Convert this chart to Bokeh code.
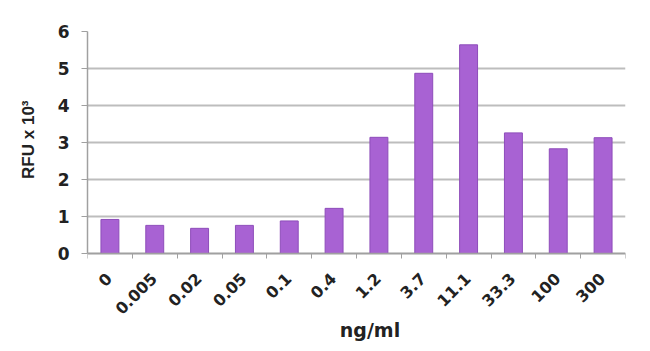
import math
from bokeh.plotting import figure
from bokeh.models import Range1d, FixedTicker, ColumnDataSource, Title
from bokeh.core.properties import value
from bokeh.embed import file_html
from bokeh.resources import INLINE

categories = ["0", "0.005", "0.02", "0.05", "0.1", "0.4", "1.2", "3.7", "11.1", "33.3", "100", "300"]
values = [0.92, 0.76, 0.68, 0.76, 0.88, 1.22, 3.14, 4.87, 5.64, 3.26, 2.83, 3.13]
y_ticks = [0, 1, 2, 3, 4, 5, 6]
x_title = "ng/ml"
y_title = "RFU x 10³"

W, H = 650, 351
top_b, bot_b, left_b, right_b = 31, 10, 86, 25
px_per_unit = 37.0
y_low = 6 - (H - top_b - bot_b) / px_per_unit  # extend frame below 0 for the labels

xs = [i + 0.5 for i in range(len(categories))]
src = ColumnDataSource(dict(x=xs, top=values))
lab_src = ColumnDataSource(dict(x=xs, y=[-0.595] * len(xs), text=categories))

p = figure(width=W, height=H, output_backend="svg", toolbar_location=None,
           x_range=Range1d(0, len(categories)), y_range=Range1d(y_low, 6),
           min_border_left=left_b, min_border_right=right_b,
           min_border_top=top_b, min_border_bottom=bot_b)
p.outline_line_color = None

p.vbar(x="x", top="top", width=0.4, bottom=0, source=src,
       fill_color="#A862D3", line_color="#8E4DBA", line_width=1)

# rotated category labels, right end at the category centre
p.text(x="x", y="y", text="text", source=lab_src, angle=math.pi / 4,
       text_align="right", text_baseline="middle", x_offset=-1,
       text_font=value("DejaVu Sans"), text_font_style="bold",
       text_font_size="16px", text_color="#222222")

# x title
p.text(x=[len(categories) / 2 + 0.3], y=[-2.08], text=[x_title],
       text_align="center", text_baseline="middle",
       text_font=value("DejaVu Sans"), text_font_style="bold",
       text_font_size="19px", text_color="#222222")

# y title
yt = Title(text=y_title, align="right", offset=69, standoff=33,
           text_font="Liberation Sans", text_font_style="bold",
           text_font_size="17px", text_color="#222222")
p.add_layout(yt, "left")

# x axis drawn at y = 0 (only boundary tick marks)
p.xaxis.fixed_location = 0
p.xaxis.ticker = FixedTicker(ticks=[], minor_ticks=list(range(len(categories) + 1)))
p.xaxis.major_tick_line_color = None
p.xaxis.minor_tick_line_color = "#A0A0A0"
p.xaxis.minor_tick_out = 5
p.xaxis.minor_tick_in = 0
p.xaxis.axis_line_color = "#A0A0A0"
p.xaxis.axis_line_width = 1.5
p.xgrid.grid_line_color = None

# y axis
p.yaxis.bounds = (0, 6)
p.yaxis.ticker = FixedTicker(ticks=y_ticks)
p.yaxis.minor_tick_line_color = None
p.yaxis.major_tick_line_color = "#A0A0A0"
p.yaxis.major_tick_out = 6
p.yaxis.major_tick_in = 0
p.yaxis.axis_line_color = "#A0A0A0"
p.yaxis.axis_line_width = 1.5
p.yaxis.major_label_text_font = "DejaVu Sans"
p.yaxis.major_label_text_font_style = "bold"
p.yaxis.major_label_text_font_size = "17px"
p.yaxis.major_label_text_color = "#222222"
p.yaxis.major_label_standoff = 12
p.ygrid.grid_line_color = "#BDBDBD"
p.ygrid.grid_line_width = 2

open("out.html", "w").write(file_html(p, INLINE))
